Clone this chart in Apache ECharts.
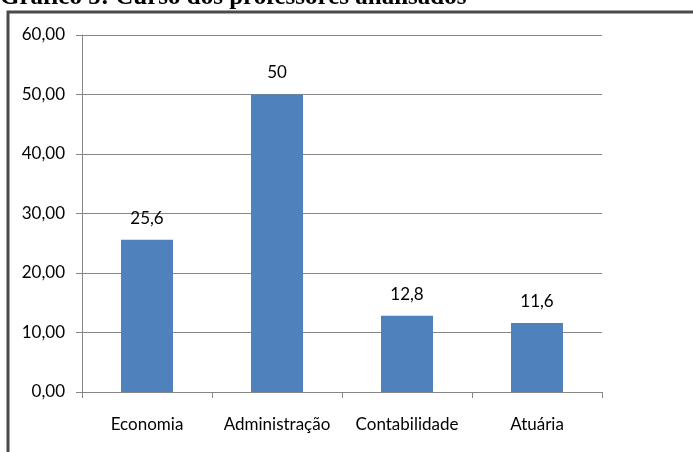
<!DOCTYPE html>
<html>
<head>
<meta charset="utf-8">
<script src="https://cdn.jsdelivr.net/npm/echarts@6/dist/echarts.min.js"></script>
<style>
  html, body { margin: 0; padding: 0; background: #fff; }
  #chart { width: 693px; height: 452px; }
</style>
</head>
<body>
<div id="chart"></div>
<script>
// Gráfico 5: Curso dos professores analisados
const titulo = 'Gráfico 5: Curso dos professores analisados';
const cursos = ['Economia', 'Administração', 'Contabilidade', 'Atuária'];
const valores = [25.6, 50, 12.8, 11.6];

const chart = echarts.init(document.getElementById('chart'));

const fonte = 'Lato, "Open Sans", sans-serif';

const option = {
  animation: false,
  backgroundColor: '#fff',
  grid: { left: 82, right: 91, top: 35, bottom: 60 },
  graphic: [
    {
      type: 'text',
      left: 0,
      top: -15,
      style: {
        text: titulo,
        font: 'bold 25px "Liberation Serif", serif',
        fill: '#000'
      }
    },
    {
      type: 'rect',
      shape: { x: 8, y: 12, width: 720, height: 480 },
      style: { fill: 'none', stroke: '#4a4a4a', lineWidth: 3 }
    }
  ],
  xAxis: {
    type: 'category',
    data: cursos,
    axisLine: { lineStyle: { color: '#868686', width: 1 } },
    axisTick: { show: true, interval: 0, length: 6, lineStyle: { color: '#868686' } },
    axisLabel: {
      color: '#000', fontFamily: fonte, fontSize: 17, margin: 24,
      interval: 0, hideOverlap: false
    }
  },
  yAxis: {
    type: 'value',
    min: 0,
    max: 60,
    interval: 10,
    axisLine: { show: true, lineStyle: { color: '#868686', width: 1 } },
    axisTick: { show: true, length: 6, lineStyle: { color: '#868686' } },
    splitLine: { lineStyle: { color: '#868686', width: 1 } },
    axisLabel: {
      color: '#000',
      fontFamily: fonte,
      fontSize: 17,
      margin: 17,
      formatter: v => v.toFixed(2).replace('.', ',')
    }
  },
  series: [{
    type: 'bar',
    data: valores,
    barWidth: '40%',
    itemStyle: { color: '#4f81bd' },
    label: {
      show: true,
      position: 'top',
      distance: 13,
      color: '#000',
      fontFamily: fonte,
      fontSize: 17,
      formatter: p => String(p.value).replace('.', ',')
    }
  }]
};

chart.setOption(option);
</script>
</body>
</html>
